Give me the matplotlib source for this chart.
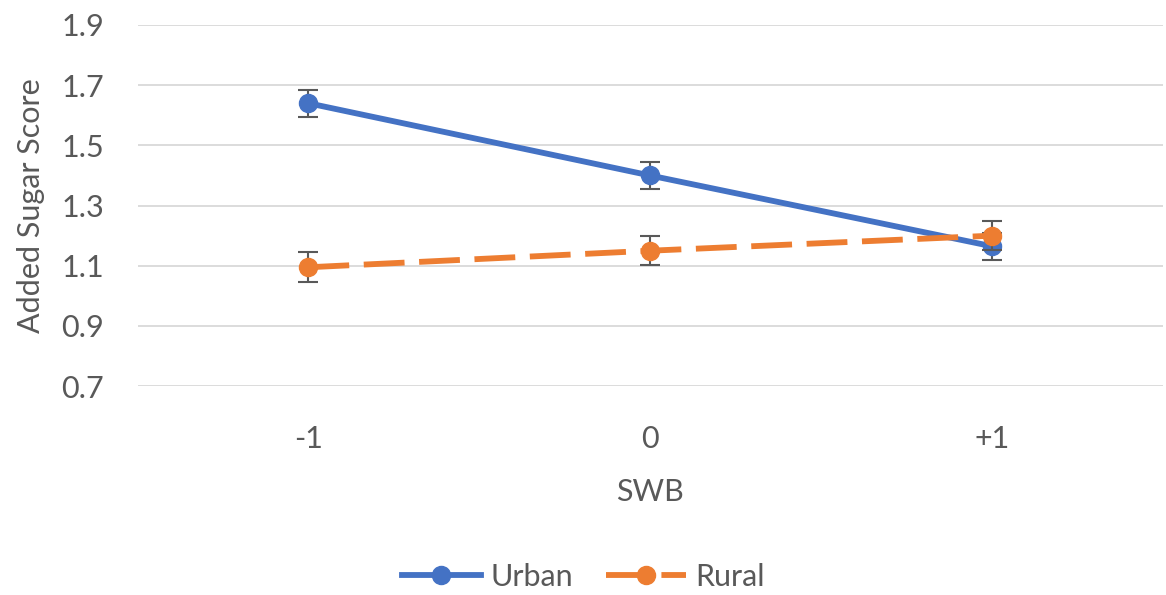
import matplotlib.pyplot as plt
import numpy as np

plt.rcParams.update({"font.family": ["Lato", "DejaVu Sans"], "font.size": 22})

categories = ["-1", "0", "+1"]
urban = [1.64, 1.40, 1.165]
urban_err = [0.045, 0.045, 0.045]
rural = [1.095, 1.15, 1.20]
rural_err = [0.05, 0.048, 0.048]
yticks = [0.7, 0.9, 1.1, 1.3, 1.5, 1.7, 1.9]

BLUE = "#4472C4"
ORANGE = "#ED7D31"
TEXT = "#595959"

fig = plt.figure(figsize=(11.66, 5.95), dpi=100)
ax = fig.add_axes([0.118, 0.351, 0.879, 0.607])

x = np.arange(len(categories))

ax.errorbar(x, urban, yerr=urban_err, color=BLUE, lw=4.2, marker="o", ms=13,
            ecolor=TEXT, elinewidth=1.5, capsize=7, capthick=1.5, zorder=3,
            label="Urban")
ax.errorbar(x, rural, yerr=rural_err, color=ORANGE, lw=4.2, marker="o", ms=13,
            ls=(0, (7, 2.5)), ecolor=TEXT, elinewidth=1.5, capsize=7,
            capthick=1.5, zorder=4, label="Rural")

ax.set_xlim(-0.5, 2.5)
ax.set_ylim(0.7, 1.9)
ax.set_yticks(yticks)
ax.set_yticklabels([f"{v:.1f}" for v in yticks])
ax.set_xticks(x)
ax.set_xticklabels(categories)
ax.grid(axis="y", color="#D9D9D9", lw=1.3)
ax.set_axisbelow(True)
for s in ax.spines.values():
    s.set_visible(False)
ax.tick_params(length=0, colors=TEXT, labelsize=22)
ax.tick_params(axis="x", pad=28)
ax.tick_params(axis="y", pad=24)

ax.set_xlabel("SWB", color=TEXT, fontsize=22, labelpad=18)
ax.set_ylabel("Added Sugar Score", color=TEXT, fontsize=22, labelpad=12)

handles, labels = ax.get_legend_handles_labels()
handles = [h[0] for h in handles]
fig.legend(handles, labels, loc="center", bbox_to_anchor=(0.5, 0.03),
           ncol=2, frameon=False, fontsize=22, labelcolor=TEXT,
           handlelength=2.6, handletextpad=0.3, columnspacing=1.1)

fig.savefig("out.png", dpi=100)
